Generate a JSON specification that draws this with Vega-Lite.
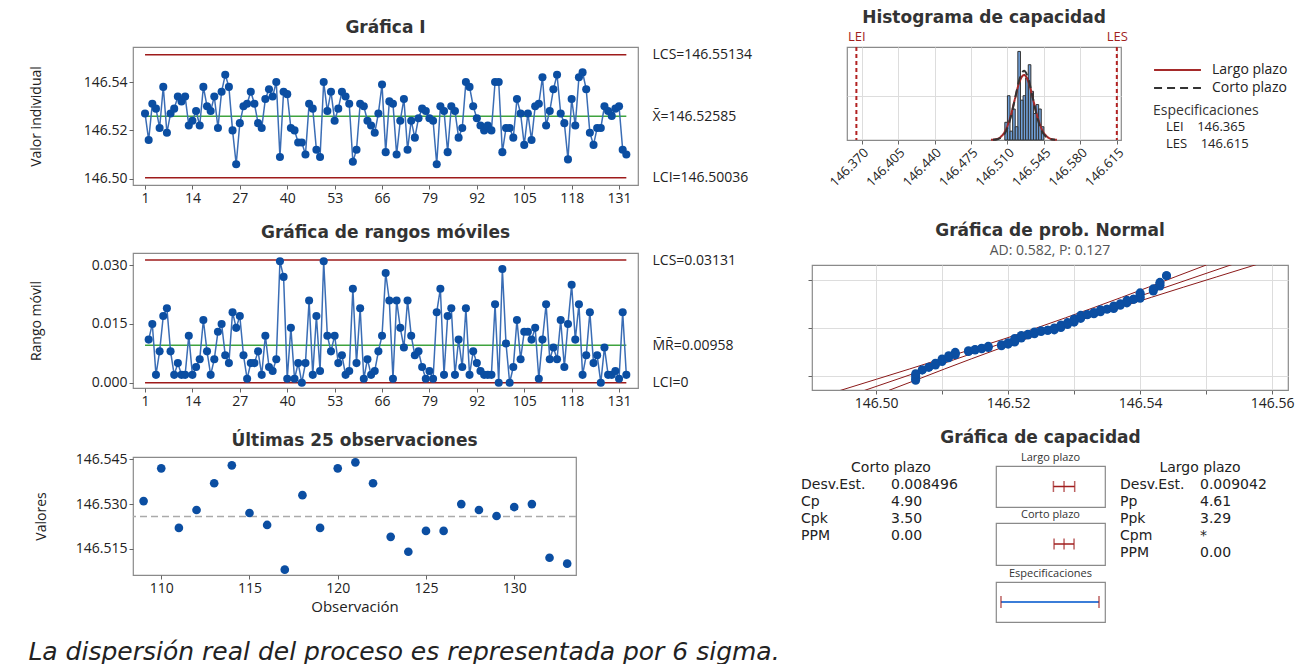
{
  "$schema": "https://vega.github.io/schema/vega-lite/v6.json",
  "background": "white",
  "padding": {"left": 28, "top": 8, "right": 4, "bottom": 2},
  "config": {
    "font": "Open Sans",
    "view": {"stroke": "#8a8a8a", "strokeWidth": 1.2},
    "axis": {"labelFont": "Open Sans", "labelFontSize": 14, "labelColor": "#222", "tickColor": "#666", "tickSize": 4, "domain": false, "grid": false, "titleFont": "Open Sans", "titleFontWeight": "normal", "titleFontSize": 14, "titleColor": "#222", "labelPadding": 2},
    "title": {"font": "DejaVu Sans", "fontSize": 17, "fontWeight": "bold", "color": "#333", "offset": 6, "anchor": "middle"},
    "legend": {"labelFont": "Open Sans", "labelFontSize": 14, "labelColor": "#222", "titleFont": "Open Sans", "titleFontSize": 14, "titleFontWeight": "normal", "titleColor": "#333"}
  },
  "datasets": {
    "obs": [
      {"obs":1,"valor":146.527},{"obs":2,"valor":146.516,"rm":0.011},{"obs":3,"valor":146.531,"rm":0.015},{"obs":4,"valor":146.529,"rm":0.002},{"obs":5,"valor":146.521,"rm":0.008},
      {"obs":6,"valor":146.538,"rm":0.017},{"obs":7,"valor":146.519,"rm":0.019},{"obs":8,"valor":146.527,"rm":0.008},{"obs":9,"valor":146.529,"rm":0.002},{"obs":10,"valor":146.534,"rm":0.005},
      {"obs":11,"valor":146.532,"rm":0.002},{"obs":12,"valor":146.534,"rm":0.002},{"obs":13,"valor":146.522,"rm":0.012},{"obs":14,"valor":146.524,"rm":0.002},{"obs":15,"valor":146.528,"rm":0.004},
      {"obs":16,"valor":146.522,"rm":0.006},{"obs":17,"valor":146.538,"rm":0.016},{"obs":18,"valor":146.530,"rm":0.008},{"obs":19,"valor":146.528,"rm":0.002},{"obs":20,"valor":146.534,"rm":0.006},
      {"obs":21,"valor":146.521,"rm":0.013},{"obs":22,"valor":146.536,"rm":0.015},{"obs":23,"valor":146.543,"rm":0.007},{"obs":24,"valor":146.538,"rm":0.005},{"obs":25,"valor":146.520,"rm":0.018},
      {"obs":26,"valor":146.506,"rm":0.014},{"obs":27,"valor":146.523,"rm":0.017},{"obs":28,"valor":146.530,"rm":0.007},{"obs":29,"valor":146.531,"rm":0.001},{"obs":30,"valor":146.536,"rm":0.005},
      {"obs":31,"valor":146.531,"rm":0.005},{"obs":32,"valor":146.523,"rm":0.008},{"obs":33,"valor":146.521,"rm":0.002},{"obs":34,"valor":146.533,"rm":0.012},{"obs":35,"valor":146.537,"rm":0.004},
      {"obs":36,"valor":146.534,"rm":0.003},{"obs":37,"valor":146.540,"rm":0.006},{"obs":38,"valor":146.509,"rm":0.031},{"obs":39,"valor":146.536,"rm":0.027},{"obs":40,"valor":146.535,"rm":0.001},
      {"obs":41,"valor":146.521,"rm":0.014},{"obs":42,"valor":146.520,"rm":0.001},{"obs":43,"valor":146.515,"rm":0.005},{"obs":44,"valor":146.515,"rm":0.000},{"obs":45,"valor":146.510,"rm":0.005},
      {"obs":46,"valor":146.531,"rm":0.021},{"obs":47,"valor":146.529,"rm":0.002},{"obs":48,"valor":146.512,"rm":0.017},{"obs":49,"valor":146.509,"rm":0.003},{"obs":50,"valor":146.540,"rm":0.031},
      {"obs":51,"valor":146.528,"rm":0.012},{"obs":52,"valor":146.536,"rm":0.008},{"obs":53,"valor":146.524,"rm":0.012},{"obs":54,"valor":146.529,"rm":0.005},{"obs":55,"valor":146.536,"rm":0.007},
      {"obs":56,"valor":146.534,"rm":0.002},{"obs":57,"valor":146.531,"rm":0.003},{"obs":58,"valor":146.507,"rm":0.024},{"obs":59,"valor":146.512,"rm":0.005},{"obs":60,"valor":146.531,"rm":0.019},
      {"obs":61,"valor":146.530,"rm":0.001},{"obs":62,"valor":146.524,"rm":0.006},{"obs":63,"valor":146.522,"rm":0.002},{"obs":64,"valor":146.519,"rm":0.003},{"obs":65,"valor":146.527,"rm":0.008},
      {"obs":66,"valor":146.539,"rm":0.012},{"obs":67,"valor":146.511,"rm":0.028},{"obs":68,"valor":146.532,"rm":0.021},{"obs":69,"valor":146.531,"rm":0.001},{"obs":70,"valor":146.510,"rm":0.021},
      {"obs":71,"valor":146.524,"rm":0.014},{"obs":72,"valor":146.533,"rm":0.009},{"obs":73,"valor":146.512,"rm":0.021},{"obs":74,"valor":146.524,"rm":0.012},{"obs":75,"valor":146.517,"rm":0.007},
      {"obs":76,"valor":146.525,"rm":0.008},{"obs":77,"valor":146.529,"rm":0.004},{"obs":78,"valor":146.528,"rm":0.001},{"obs":79,"valor":146.525,"rm":0.003},{"obs":80,"valor":146.524,"rm":0.001},
      {"obs":81,"valor":146.506,"rm":0.018},{"obs":82,"valor":146.530,"rm":0.024},{"obs":83,"valor":146.528,"rm":0.002},{"obs":84,"valor":146.511,"rm":0.017},{"obs":85,"valor":146.530,"rm":0.019},
      {"obs":86,"valor":146.528,"rm":0.002},{"obs":87,"valor":146.517,"rm":0.011},{"obs":88,"valor":146.521,"rm":0.004},{"obs":89,"valor":146.540,"rm":0.019},{"obs":90,"valor":146.538,"rm":0.002},
      {"obs":91,"valor":146.530,"rm":0.008},{"obs":92,"valor":146.525,"rm":0.005},{"obs":93,"valor":146.522,"rm":0.003},{"obs":94,"valor":146.520,"rm":0.002},{"obs":95,"valor":146.522,"rm":0.002},
      {"obs":96,"valor":146.520,"rm":0.002},{"obs":97,"valor":146.540,"rm":0.020},{"obs":98,"valor":146.540,"rm":0.000},{"obs":99,"valor":146.511,"rm":0.029},{"obs":100,"valor":146.521,"rm":0.010},
      {"obs":101,"valor":146.521,"rm":0.000},{"obs":102,"valor":146.517,"rm":0.004},{"obs":103,"valor":146.533,"rm":0.016},{"obs":104,"valor":146.527,"rm":0.006},{"obs":105,"valor":146.514,"rm":0.013},
      {"obs":106,"valor":146.527,"rm":0.013},{"obs":107,"valor":146.516,"rm":0.011},{"obs":108,"valor":146.530,"rm":0.014},{"obs":109,"valor":146.531,"rm":0.001},{"obs":110,"valor":146.542,"rm":0.011},
      {"obs":111,"valor":146.522,"rm":0.020},{"obs":112,"valor":146.528,"rm":0.006},{"obs":113,"valor":146.537,"rm":0.009},{"obs":114,"valor":146.543,"rm":0.006},{"obs":115,"valor":146.527,"rm":0.016},
      {"obs":116,"valor":146.523,"rm":0.004},{"obs":117,"valor":146.508,"rm":0.015},{"obs":118,"valor":146.533,"rm":0.025},{"obs":119,"valor":146.522,"rm":0.011},{"obs":120,"valor":146.542,"rm":0.020},
      {"obs":121,"valor":146.544,"rm":0.002},{"obs":122,"valor":146.537,"rm":0.007},{"obs":123,"valor":146.519,"rm":0.018},{"obs":124,"valor":146.514,"rm":0.005},{"obs":125,"valor":146.521,"rm":0.007},
      {"obs":126,"valor":146.521,"rm":0.000},{"obs":127,"valor":146.530,"rm":0.009},{"obs":128,"valor":146.528,"rm":0.002},{"obs":129,"valor":146.526,"rm":0.002},{"obs":130,"valor":146.529,"rm":0.003},
      {"obs":131,"valor":146.530,"rm":0.001},{"obs":132,"valor":146.512,"rm":0.018},{"obs":133,"valor":146.510,"rm":0.002}
    ],
    "curvas": [
      {"tipo":"Largo plazo","x":146.4942,"y":0.03},{"tipo":"Largo plazo","x":146.4987,"y":0.16},{"tipo":"Largo plazo","x":146.5033,"y":0.65},{"tipo":"Largo plazo","x":146.5078,"y":1.99},{"tipo":"Largo plazo","x":146.5123,"y":4.77},{"tipo":"Largo plazo","x":146.5168,"y":8.90},{"tipo":"Largo plazo","x":146.5213,"y":12.96},{"tipo":"Largo plazo","x":146.5259,"y":14.68},{"tipo":"Largo plazo","x":146.5304,"y":12.96},{"tipo":"Largo plazo","x":146.5349,"y":8.90},{"tipo":"Largo plazo","x":146.5394,"y":4.77},{"tipo":"Largo plazo","x":146.5439,"y":1.99},{"tipo":"Largo plazo","x":146.5485,"y":0.65},{"tipo":"Largo plazo","x":146.5530,"y":0.16},{"tipo":"Largo plazo","x":146.5575,"y":0.03},
      {"tipo":"Corto plazo","x":146.4961,"y":0.03},{"tipo":"Corto plazo","x":146.5004,"y":0.17},{"tipo":"Corto plazo","x":146.5046,"y":0.69},{"tipo":"Corto plazo","x":146.5089,"y":2.11},{"tipo":"Corto plazo","x":146.5131,"y":5.07},{"tipo":"Corto plazo","x":146.5174,"y":9.47},{"tipo":"Corto plazo","x":146.5216,"y":13.78},{"tipo":"Corto plazo","x":146.5259,"y":15.61},{"tipo":"Corto plazo","x":146.5301,"y":13.78},{"tipo":"Corto plazo","x":146.5344,"y":9.47},{"tipo":"Corto plazo","x":146.5386,"y":5.07},{"tipo":"Corto plazo","x":146.5428,"y":2.11},{"tipo":"Corto plazo","x":146.5471,"y":0.69},{"tipo":"Corto plazo","x":146.5513,"y":0.17},{"tipo":"Corto plazo","x":146.5556,"y":0.03}
    ],
    "prob": [
      {"valor":146.506,"z_ini":-2.56,"z_fin":-2.234},{"valor":146.507,"z_ini":-2.049,"z_fin":-2.049},{"valor":146.508,"z_ini":-1.915,"z_fin":-1.915},{"valor":146.509,"z_ini":-1.809,"z_fin":-1.72},
      {"valor":146.510,"z_ini":-1.642,"z_fin":-1.512},{"valor":146.511,"z_ini":-1.456,"z_fin":-1.355},{"valor":146.512,"z_ini":-1.31,"z_fin":-1.187},{"valor":146.514,"z_ini":-1.149,"z_fin":-1.113},
      {"valor":146.515,"z_ini":-1.079,"z_fin":-1.046},{"valor":146.516,"z_ini":-1.014,"z_fin":-0.983},{"valor":146.517,"z_ini":-0.953,"z_fin":-0.896},{"valor":146.519,"z_ini":-0.868,"z_fin":-0.815},
      {"valor":146.520,"z_ini":-0.789,"z_fin":-0.714},{"valor":146.521,"z_ini":-0.69,"z_fin":-0.51},{"valor":146.522,"z_ini":-0.488,"z_fin":-0.366},{"valor":146.523,"z_ini":-0.345,"z_fin":-0.305},
      {"valor":146.524,"z_ini":-0.286,"z_fin":-0.189},{"valor":146.525,"z_ini":-0.17,"z_fin":-0.132},{"valor":146.526,"z_ini":-0.113,"z_fin":-0.113},{"valor":146.527,"z_ini":-0.094,"z_fin":0.0},
      {"valor":146.528,"z_ini":0.019,"z_fin":0.151},{"valor":146.529,"z_ini":0.17,"z_fin":0.266},{"valor":146.530,"z_ini":0.286,"z_fin":0.447},{"valor":146.531,"z_ini":0.468,"z_fin":0.62},
      {"valor":146.532,"z_ini":0.643,"z_fin":0.666},{"valor":146.533,"z_ini":0.69,"z_fin":0.763},{"valor":146.534,"z_ini":0.789,"z_fin":0.896},{"valor":146.535,"z_ini":0.924,"z_fin":0.924},
      {"valor":146.536,"z_ini":0.953,"z_fin":1.079},{"valor":146.537,"z_ini":1.113,"z_fin":1.187},{"valor":146.538,"z_ini":1.226,"z_fin":1.355},{"valor":146.539,"z_ini":1.404,"z_fin":1.404},
      {"valor":146.540,"z_ini":1.456,"z_fin":1.72},{"valor":146.542,"z_ini":1.809,"z_fin":1.915},{"valor":146.543,"z_ini":2.049,"z_fin":2.234},{"valor":146.544,"z_ini":2.56,"z_fin":2.56}
    ],
    "bandas": [
      {"curva":"ajuste","valor":146.4969,"z":-3.2},{"curva":"ajuste","valor":146.5557,"z":3.3},
      {"curva":"inferior","valor":146.4931,"z":-3.2},{"curva":"inferior","valor":146.5001,"z":-2.5},{"curva":"inferior","valor":146.5051,"z":-2},{"curva":"inferior","valor":146.5100,"z":-1.5},{"curva":"inferior","valor":146.5149,"z":-1},{"curva":"inferior","valor":146.5197,"z":-0.5},{"curva":"inferior","valor":146.5243,"z":0},{"curva":"inferior","valor":146.5287,"z":0.5},{"curva":"inferior","valor":146.5330,"z":1},{"curva":"inferior","valor":146.5372,"z":1.5},{"curva":"inferior","valor":146.5413,"z":2},{"curva":"inferior","valor":146.5453,"z":2.5},{"curva":"inferior","valor":146.5510,"z":3.2},
      {"curva":"superior","valor":146.5007,"z":-3.2},{"curva":"superior","valor":146.5064,"z":-2.5},{"curva":"superior","valor":146.5104,"z":-2},{"curva":"superior","valor":146.5145,"z":-1.5},{"curva":"superior","valor":146.5187,"z":-1},{"curva":"superior","valor":146.5230,"z":-0.5},{"curva":"superior","valor":146.5274,"z":0},{"curva":"superior","valor":146.5320,"z":0.5},{"curva":"superior","valor":146.5368,"z":1},{"curva":"superior","valor":146.5417,"z":1.5},{"curva":"superior","valor":146.5466,"z":2},{"curva":"superior","valor":146.5516,"z":2.5},{"curva":"superior","valor":146.5586,"z":3.2}
    ],
    "cortoPlazo": [{"estad":"Desv.Est.","valor":"0.008496"},{"estad":"Cp","valor":"4.90"},{"estad":"Cpk","valor":"3.50"},{"estad":"PPM","valor":"0.00"}],
    "largoPlazo": [{"estad":"Desv.Est.","valor":"0.009042"},{"estad":"Pp","valor":"4.61"},{"estad":"Ppk","valor":"3.29"},{"estad":"Cpm","valor":"*"},{"estad":"PPM","valor":"0.00"}]
  },
  "title": {"text": "La dispersión real del proceso es representada por 6 sigma.", "orient": "bottom", "anchor": "start", "font": "DejaVu Sans", "fontStyle": "italic", "fontWeight": "normal", "fontSize": 25, "color": "#222", "offset": 17},
  "resolve": {"scale": {"color": "independent", "strokeDash": "independent", "opacity": "independent"}, "legend": {"color": "independent", "strokeDash": "independent", "opacity": "independent"}},
  "spacing": 48,
  "hconcat": [
    {
      "spacing": 22,
      "vconcat": [
        {
          "spacing": 17,
          "vconcat": [
            {
              "title": {"text": "Gráfica I", "offset": 10},
              "width": 505, "height": 138,
              "resolve": {"axis": {"y": "independent"}},
              "layer": [
                {
                  "data": {"values": [{"limite":"LCS","valor":146.55134,"desde":1,"hasta":133},{"limite":"LCI","valor":146.50036,"desde":1,"hasta":133}]},
                  "mark": {"type": "rule", "color": "#9E1B1B", "strokeWidth": 1.5},
                  "encoding": {
                    "x": {"field": "desde", "type": "quantitative", "scale": {"domain": [-2.3, 136.2], "nice": false, "zero": false}, "axis": {"values": [1,14,27,40,53,66,79,92,105,118,131], "title": null, "labelOverlap": false}},
                    "x2": {"field": "hasta"},
                    "y": {"field": "valor", "type": "quantitative", "scale": {"domain": [146.4974, 146.5545], "nice": false, "zero": false}, "axis": {"orient": "right", "values": [146.50036, 146.52585, 146.55134], "labelExpr": "datum.value > 146.54 ? 'LCS=146.55134' : (datum.value > 146.51 ? 'X̄=146.52585' : 'LCI=146.50036')", "ticks": false, "title": null, "labelPadding": 14}}
                  }
                },
                {
                  "data": {"values": [{"limite":"Media","valor":146.52585,"desde":1,"hasta":133}]},
                  "mark": {"type": "rule", "color": "#3FA33F", "strokeWidth": 1.5},
                  "encoding": {"x": {"field": "desde", "type": "quantitative"}, "x2": {"field": "hasta"}, "y": {"field": "valor", "type": "quantitative", "axis": null}}
                },
                {
                  "data": {"name": "obs"},
                  "mark": {"type": "line", "color": "#3A6DB5", "strokeWidth": 1.5},
                  "encoding": {"x": {"field": "obs", "type": "quantitative"}, "y": {"field": "valor", "type": "quantitative", "axis": {"values": [146.50, 146.52, 146.54], "format": ".2f", "title": "Valor individual", "titlePadding": 34, "minExtent": 56}}}
                },
                {
                  "data": {"name": "obs"},
                  "mark": {"type": "point", "filled": true, "color": "#0B4EA2", "size": 65, "opacity": 1},
                  "encoding": {"x": {"field": "obs", "type": "quantitative"}, "y": {"field": "valor", "type": "quantitative", "axis": null}}
                }
              ]
            },
            {
              "title": {"text": "Gráfica de rangos móviles", "offset": 11},
              "width": 505, "height": 135,
              "resolve": {"axis": {"y": "independent"}},
              "layer": [
                {
                  "data": {"values": [{"limite":"LCS","valor":0.03131,"desde":1,"hasta":133},{"limite":"LCI","valor":0,"desde":1,"hasta":133}]},
                  "mark": {"type": "rule", "color": "#9E1B1B", "strokeWidth": 1.5},
                  "encoding": {
                    "x": {"field": "desde", "type": "quantitative", "scale": {"domain": [-2.3, 136.2], "nice": false, "zero": false}, "axis": {"values": [1,14,27,40,53,66,79,92,105,118,131], "title": null, "labelOverlap": false}},
                    "x2": {"field": "hasta"},
                    "y": {"field": "valor", "type": "quantitative", "scale": {"domain": [-0.00135, 0.0331], "nice": false, "zero": false}, "axis": {"orient": "right", "values": [0, 0.00958, 0.03131], "labelExpr": "datum.value > 0.02 ? 'LCS=0.03131' : (datum.value > 0.005 ? 'M̄R̄=0.00958' : 'LCI=0')", "ticks": false, "title": null, "labelPadding": 14}}
                  }
                },
                {
                  "data": {"values": [{"limite":"Media","valor":0.00958,"desde":1,"hasta":133}]},
                  "mark": {"type": "rule", "color": "#3FA33F", "strokeWidth": 1.5},
                  "encoding": {"x": {"field": "desde", "type": "quantitative"}, "x2": {"field": "hasta"}, "y": {"field": "valor", "type": "quantitative", "axis": null}}
                },
                {
                  "data": {"name": "obs"},
                  "mark": {"type": "line", "color": "#3A6DB5", "strokeWidth": 1.5},
                  "encoding": {"x": {"field": "obs", "type": "quantitative"}, "y": {"field": "rm", "type": "quantitative", "axis": {"values": [0, 0.015, 0.03], "format": ".3f", "title": "Rango móvil", "titlePadding": 34, "minExtent": 56}}}
                },
                {
                  "data": {"name": "obs"},
                  "mark": {"type": "point", "filled": true, "color": "#0B4EA2", "size": 65, "opacity": 1},
                  "encoding": {"x": {"field": "obs", "type": "quantitative"}, "y": {"field": "rm", "type": "quantitative", "axis": null}}
                }
              ]
            }
          ]
        },
        {
          "title": {"text": "Últimas 25 observaciones", "offset": 2},
          "width": 443, "height": 118,
          "layer": [
            {
              "data": {"values": [{"referencia": "Media", "valor": 146.52585}]},
              "mark": {"type": "rule", "color": "#AAAAAA", "strokeDash": [7, 4], "strokeWidth": 1.5},
              "encoding": {"y": {"field": "valor", "type": "quantitative", "scale": {"domain": [146.5062, 146.5458], "nice": false, "zero": false}, "axis": {"values": [146.515, 146.53, 146.545], "format": ".3f", "title": "Valores", "titlePadding": 27}}}
            },
            {
              "data": {"name": "obs"},
              "transform": [{"filter": "datum.obs >= 109"}],
              "mark": {"type": "point", "filled": true, "color": "#0B4EA2", "size": 75, "opacity": 1},
              "encoding": {
                "x": {"field": "obs", "type": "quantitative", "scale": {"domain": [108.4, 133.5], "nice": false, "zero": false}, "axis": {"values": [110, 115, 120, 125, 130], "title": "Observación", "titleFontSize": 15, "titlePadding": 4}},
                "y": {"field": "valor", "type": "quantitative"}
              }
            }
          ]
        }
      ]
    },
    {
      "spacing": 18,
      "resolve": {"scale": {"color": "independent", "strokeDash": "independent", "opacity": "independent"}, "legend": {"color": "independent", "strokeDash": "independent", "opacity": "independent"}},
      "vconcat": [
        {
          "spacing": 31,
          "resolve": {"scale": {"color": "independent", "strokeDash": "independent", "opacity": "independent"}, "legend": {"color": "independent", "strokeDash": "independent", "opacity": "independent"}},
          "vconcat": [
            {
              "spacing": 0,
              "resolve": {"scale": {"color": "independent", "strokeDash": "independent", "opacity": "independent"}, "legend": {"color": "independent", "strokeDash": "independent", "opacity": "independent"}},
              "hconcat": [
                {"width": 26, "height": 10, "view": {"stroke": null}, "data": {"values": [{"t": ""}]}, "mark": {"type": "text"}, "encoding": {"text": {"field": "t"}}},
                {
                  "title": {"text": "Histograma de capacidad", "offset": 3},
                  "width": 274, "height": 93,
                  "resolve": {"axis": {"x": "independent"}},
                  "layer": [
                    {
                      "data": {"name": "obs"},
                      "mark": {"type": "bar", "fill": "#6F9FD8", "stroke": "#333333", "strokeWidth": 1, "binSpacing": 0},
                      "encoding": {
                        "x": {"field": "valor", "type": "quantitative", "bin": {"step": 0.0025, "anchor": 146.4995}, "scale": {"domain": [146.356, 146.619], "nice": false, "zero": false}, "axis": {"values": [146.37, 146.405, 146.44, 146.475, 146.51, 146.545, 146.58, 146.615], "format": ".3f", "labelAngle": -45, "labelFontSize": 13, "labelOverlap": false, "grid": true, "gridColor": "#dddddd", "title": null}},
                        "y": {"aggregate": "count", "type": "quantitative", "scale": {"domain": [0, 21], "nice": false}, "axis": {"values": [10], "labels": false, "ticks": false, "grid": true, "gridColor": "#dddddd", "title": null}}
                      }
                    },
                    {
                      "data": {"name": "curvas"},
                      "mark": {"type": "line", "interpolate": "monotone", "strokeWidth": 2},
                      "encoding": {
                        "x": {"field": "x", "type": "quantitative", "axis": null},
                        "y": {"field": "y", "type": "quantitative"},
                        "color": {"field": "tipo", "type": "nominal", "scale": {"domain": ["Largo plazo", "Corto plazo"], "range": ["#A52A2A", "#333333"]}, "legend": {"title": " ", "titleFontSize": 14, "titlePadding": 1, "symbolType": "stroke", "symbolSize": 2200, "symbolStrokeWidth": 2, "offset": 6, "labelOffset": 10, "rowPadding": 2, "clipHeight": 16, "padding": 0}},
                        "strokeDash": {"field": "tipo", "type": "nominal", "scale": {"domain": ["Largo plazo", "Corto plazo"], "range": [[1, 0], [8, 5]]}, "legend": {"title": " ", "titleFontSize": 14, "titlePadding": 1, "symbolType": "stroke", "symbolSize": 2200, "symbolStrokeWidth": 2, "offset": 6, "labelOffset": 10, "rowPadding": 2, "clipHeight": 16, "padding": 0}}
                      }
                    },
                    {
                      "data": {"values": [{"spec": "LEI", "valor": 146.365}, {"spec": "LES", "valor": 146.615}]},
                      "mark": {"type": "rule", "color": "#B22222", "strokeDash": [4, 3], "strokeWidth": 2},
                      "encoding": {
                        "x": {"field": "valor", "type": "quantitative", "axis": {"orient": "top", "values": [146.365, 146.615], "labelExpr": "datum.value < 146.5 ? 'LEI' : 'LES'", "labelColor": "#A01E1E", "labelFontSize": 13, "ticks": false, "grid": false, "title": null, "labelPadding": 4}},
                        "opacity": {"field": "spec", "type": "nominal", "scale": {"domain": ["LEI", "LES"], "range": [1, 1]}, "legend": {"title": "Especificaciones", "labelExpr": "datum.label == 'LEI' ? 'LEI\u00a0\u00a0\u00a0\u00a0146.365' : 'LES\u00a0\u00a0\u00a0\u00a0146.615'", "labelFontSize": 13, "symbolSize": 0, "symbolStrokeWidth": 0, "symbolOpacity": 0, "labelOffset": 0, "titlePadding": 2, "rowPadding": 3, "offset": 32, "padding": 0}}
                      }
                    }
                  ]
                }
              ]
            },
            {
              "spacing": 0,
              "hconcat": [
                {"width": 5, "height": 10, "view": {"stroke": null}, "data": {"values": [{"t": ""}]}, "mark": {"type": "text"}, "encoding": {"text": {"field": "t"}}},
                {
                  "title": {"text": "Gráfica de prob. Normal", "subtitle": "AD: 0.582, P: 0.127", "subtitleFont": "Open Sans", "subtitleFontSize": 14, "subtitleColor": "#555", "subtitlePadding": 4},
                  "width": 476, "height": 125,
                  "layer": [
                    {
                      "data": {"name": "bandas"},
                      "mark": {"type": "line", "color": "#8B1A1A", "strokeWidth": 1, "clip": true},
                      "encoding": {
                        "x": {"field": "valor", "type": "quantitative", "scale": {"domain": [146.4903, 146.5624], "nice": false, "zero": false}, "axis": {"values": [146.50, 146.51, 146.52, 146.53, 146.54, 146.55, 146.56], "labelExpr": "round(datum.value * 100) % 2 == 0 ? format(datum.value, '.2f') : ''", "grid": true, "gridColor": "#dddddd", "title": null}},
                        "y": {"field": "z", "type": "quantitative", "scale": {"domain": [-3.03, 3.08], "nice": false, "zero": false}, "axis": {"values": [-2.326, -1.2816, 0, 1.2816, 2.326], "labels": false, "grid": true, "gridColor": "#dddddd", "title": null}},
                        "detail": {"field": "curva", "type": "nominal"}
                      }
                    },
                    {
                      "data": {"name": "prob"},
                      "mark": {"type": "rule", "color": "#0B4EA2", "strokeWidth": 9},
                      "encoding": {"x": {"field": "valor", "type": "quantitative"}, "y": {"field": "z_ini", "type": "quantitative"}, "y2": {"field": "z_fin"}}
                    },
                    {
                      "data": {"name": "prob"},
                      "mark": {"type": "point", "filled": true, "color": "#0B4EA2", "size": 80, "opacity": 1},
                      "encoding": {"x": {"field": "valor", "type": "quantitative"}, "y": {"field": "z_ini", "type": "quantitative"}}
                    },
                    {
                      "data": {"name": "prob"},
                      "mark": {"type": "point", "filled": true, "color": "#0B4EA2", "size": 80, "opacity": 1},
                      "encoding": {"x": {"field": "valor", "type": "quantitative"}, "y": {"field": "z_fin", "type": "quantitative"}}
                    }
                  ]
                }
              ]
            }
          ]
        },
        {
          "title": {"text": "Gráfica de capacidad", "offset": 4},
          "spacing": 14,
          "hconcat": [
            {
              "width": 180, "height": 102,
              "view": {"stroke": null},
              "layer": [
                {
                  "data": {"name": "cortoPlazo"},
                  "transform": [{"fold": ["estad", "valor"], "as": ["col", "texto"]}],
                  "mark": {"type": "text", "align": "left", "baseline": "middle", "font": "DejaVu Sans", "fontSize": 14, "color": "#222"},
                  "encoding": {
                    "x": {"field": "col", "type": "nominal", "scale": {"type": "point", "domain": ["estad", "valor", "fin"], "padding": 0}, "axis": null},
                    "y": {"field": "estad", "type": "nominal", "scale": {"type": "point", "domain": ["encabezado", "Desv.Est.", "Cp", "Cpk", "PPM"], "padding": 1}, "axis": null},
                    "text": {"field": "texto"}
                  }
                },
                {
                  "data": {"values": [{"estad": "encabezado", "col": "valor", "texto": "Corto plazo"}]},
                  "mark": {"type": "text", "align": "center", "baseline": "middle", "font": "DejaVu Sans", "fontSize": 14, "color": "#222"},
                  "encoding": {"x": {"field": "col", "type": "nominal"}, "y": {"field": "estad", "type": "nominal"}, "text": {"field": "texto"}}
                }
              ]
            },
            {
              "spacing": 0,
              "vconcat": [
                {"width": 109, "height": 14, "data": {"values": [{"t": "Largo plazo"}]}, "mark": {"type": "text", "fontSize": 11, "color": "#333", "baseline": "middle"}, "encoding": {"text": {"field": "t"}}},
                {"width": 109, "height": 41, "layer": [
                  {"data": {"values": [{"lo": 146.49873, "hi": 146.55298}]}, "mark": {"type": "rule", "color": "#A01E1E", "strokeWidth": 1.5}, "encoding": {"x": {"field": "lo", "type": "quantitative", "scale": {"domain": [146.3523, 146.6303], "nice": false, "zero": false}, "axis": null}, "x2": {"field": "hi"}}},
                  {"data": {"values": [{"x": 146.49873}, {"x": 146.52585}, {"x": 146.55298}]}, "mark": {"type": "tick", "color": "#A01E1E", "thickness": 1.5, "size": 11}, "encoding": {"x": {"field": "x", "type": "quantitative"}}}
                ]},
                {"width": 109, "height": 14, "data": {"values": [{"t": "Corto plazo"}]}, "mark": {"type": "text", "fontSize": 11, "color": "#333", "baseline": "middle"}, "encoding": {"text": {"field": "t"}}},
                {"width": 109, "height": 42, "layer": [
                  {"data": {"values": [{"lo": 146.50036, "hi": 146.55134}]}, "mark": {"type": "rule", "color": "#A01E1E", "strokeWidth": 1.5}, "encoding": {"x": {"field": "lo", "type": "quantitative", "scale": {"domain": [146.3523, 146.6303], "nice": false, "zero": false}, "axis": null}, "x2": {"field": "hi"}}},
                  {"data": {"values": [{"x": 146.50036}, {"x": 146.52585}, {"x": 146.55134}]}, "mark": {"type": "tick", "color": "#A01E1E", "thickness": 1.5, "size": 11}, "encoding": {"x": {"field": "x", "type": "quantitative"}}}
                ]},
                {"width": 109, "height": 15, "data": {"values": [{"t": "Especificaciones"}]}, "mark": {"type": "text", "fontSize": 11, "color": "#333", "baseline": "middle"}, "encoding": {"text": {"field": "t"}}},
                {"width": 109, "height": 40, "layer": [
                  {"data": {"values": [{"lo": 146.365, "hi": 146.615}]}, "mark": {"type": "rule", "color": "#3B7DD8", "strokeWidth": 2}, "encoding": {"x": {"field": "lo", "type": "quantitative", "scale": {"domain": [146.3523, 146.6303], "nice": false, "zero": false}, "axis": null}, "x2": {"field": "hi"}}},
                  {"data": {"values": [{"x": 146.365}, {"x": 146.615}]}, "mark": {"type": "tick", "color": "#A01E1E", "thickness": 1.5, "size": 12}, "encoding": {"x": {"field": "x", "type": "quantitative"}}}
                ]}
              ]
            },
            {
              "width": 160, "height": 119,
              "view": {"stroke": null},
              "layer": [
                {
                  "data": {"name": "largoPlazo"},
                  "transform": [{"fold": ["estad", "valor"], "as": ["col", "texto"]}],
                  "mark": {"type": "text", "align": "left", "baseline": "middle", "font": "DejaVu Sans", "fontSize": 14, "color": "#222"},
                  "encoding": {
                    "x": {"field": "col", "type": "nominal", "scale": {"type": "point", "domain": ["estad", "valor", "fin"], "padding": 0}, "axis": null},
                    "y": {"field": "estad", "type": "nominal", "scale": {"type": "point", "domain": ["encabezado", "Desv.Est.", "Pp", "Ppk", "Cpm", "PPM"], "padding": 1}, "axis": null},
                    "text": {"field": "texto"}
                  }
                },
                {
                  "data": {"values": [{"estad": "encabezado", "col": "valor", "texto": "Largo plazo"}]},
                  "mark": {"type": "text", "align": "center", "baseline": "middle", "font": "DejaVu Sans", "fontSize": 14, "color": "#222"},
                  "encoding": {"x": {"field": "col", "type": "nominal"}, "y": {"field": "estad", "type": "nominal"}, "text": {"field": "texto"}}
                }
              ]
            }
          ]
        }
      ]
    }
  ]
}
